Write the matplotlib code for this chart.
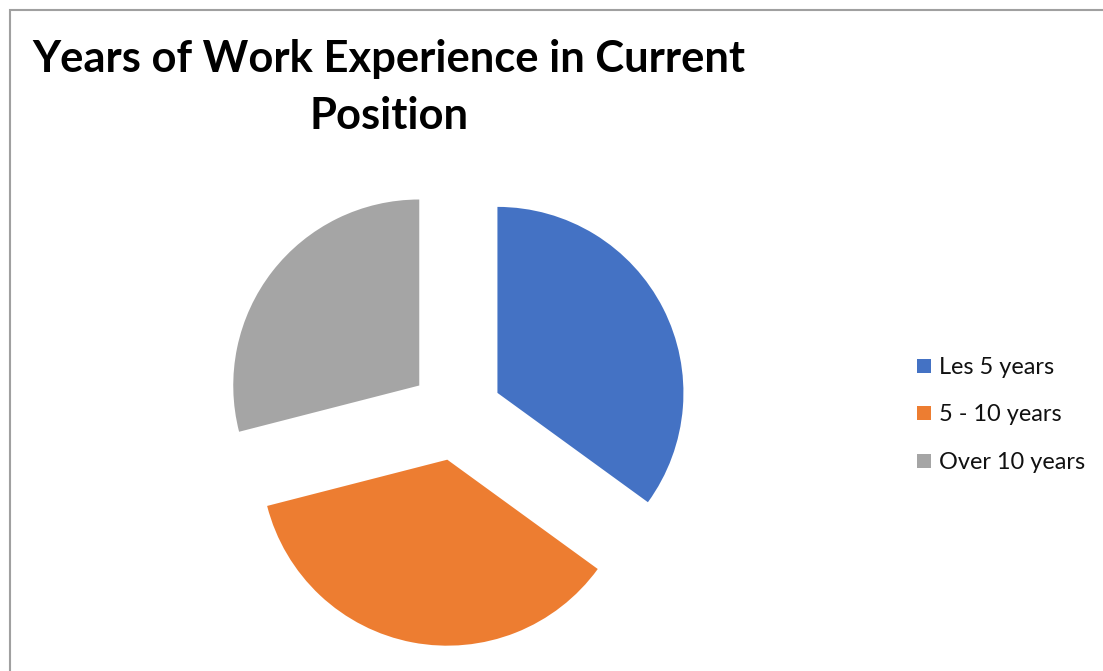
import matplotlib
matplotlib.use("Agg")
import matplotlib.pyplot as plt
from matplotlib.patches import Rectangle

labels = ["Les 5 years", "5 - 10 years", "Over 10 years"]
values = [35, 36, 29]
colors = ["#4472C4", "#ED7D31", "#A5A5A5"]
explode = [0.25, 0.25, 0.25]
title = "Years of Work Experience in Current\nPosition"

W, H = 1103, 671
fig = plt.figure(figsize=(W / 100, H / 100), dpi=100)
fig.patch.set_facecolor("white")

# border (left and top edges visible, right/bottom run off the image)
fig.patches.append(Rectangle((10 / W, -0.05), (W - 10) / W + 0.002, (H - 10) / H + 0.05,
                             transform=fig.transFigure, fill=False,
                             edgecolor="#A0A0A0", linewidth=1.5, zorder=0))

# pie axes: center (456,414) px, radius 186 px, limits +-1.3
cx, cy, r, lim = 456, 414, 186, 1.3
half = lim * r
ax = fig.add_axes([(cx - half) / W, (H - cy - half) / H, 2 * half / W, 2 * half / H])
wedges, _ = ax.pie(values, colors=colors, explode=explode, startangle=90,
                   counterclock=False, radius=1.0)
ax.set_xlim(-lim, lim)
ax.set_ylim(-lim, lim)
ax.set_aspect("equal")
ax.axis("off")

renderer = fig.canvas.get_renderer()

def fit(text_obj, target_w):
    bb = text_obj.get_window_extent(renderer=renderer)
    text_obj.set_fontsize(text_obj.get_fontsize() * target_w / bb.width)

# title
lines = title.split("\n")
t1 = fig.text(389 / W, 1 - 72 / H, lines[0], ha="center", va="baseline",
              fontsize=30, fontweight="bold", family="Lato", color="black")
fit(t1, 712)
fs = t1.get_fontsize()
t2 = fig.text(389 / W, 1 - 129 / H, lines[1], ha="center", va="baseline",
              fontsize=fs, fontweight="bold", family="Lato", color="black")

# legend (manual)
ys = [366, 413, 461]
tmp = fig.text(0, 0, labels[2], fontsize=16, family="Lato")
fit(tmp, 147)
lfs = tmp.get_fontsize()
tmp.remove()
for lab, col, y in zip(labels, colors, ys):
    fig.patches.append(Rectangle((917 / W, 1 - (y + 7) / H), 14 / W, 14 / H,
                                 transform=fig.transFigure, facecolor=col,
                                 edgecolor="none"))
    fig.text(939 / W, 1 - (y + 8) / H, lab, ha="left", va="baseline",
             fontsize=lfs, family="Lato", color="#111111")

fig.savefig("out.png", dpi=100, facecolor="white")
